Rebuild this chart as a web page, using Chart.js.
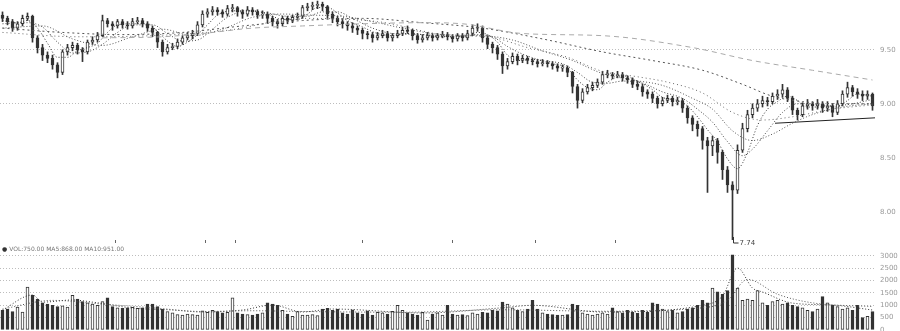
<!DOCTYPE html>
<html>
<head>
<meta charset="utf-8">
<script src="https://cdn.jsdelivr.net/npm/chart.js@4.4.1/dist/chart.umd.min.js"></script>
<style>
  body { margin: 0; background: #fff; width: 900px; height: 331px; overflow: hidden; position: relative; }
  #price { position: absolute; left: 0; top: 0; }
  #vol { position: absolute; left: 0; top: 252px; }
  #volLegend { position: absolute; left: 2px; top: 245px; font: 6px "DejaVu Sans", sans-serif; color: #777; white-space: nowrap; }
  #volLegend b { color: #333; font-weight: normal; }
</style>
</head>
<body>
<canvas id="price" width="900" height="252"></canvas>
<div id="volLegend"><b>●</b> VOL:750.00 MA5:868.00 MA10:951.00</div>
<canvas id="vol" width="900" height="79"></canvas>
<script>
// daily candles
const opens = [9.82,9.79,9.76,9.70,9.74,9.79,9.81,9.61,9.52,9.45,
 9.42,9.36,9.29,9.48,9.52,9.54,9.50,9.48,9.57,9.59,
 9.63,9.77,9.74,9.72,9.76,9.73,9.72,9.76,9.77,9.74,
 9.70,9.66,9.57,9.48,9.52,9.53,9.57,9.61,9.63,9.65,
 9.73,9.83,9.85,9.87,9.85,9.83,9.88,9.89,9.85,9.83,
 9.87,9.85,9.82,9.83,9.79,9.76,9.74,9.79,9.77,9.80,
 9.81,9.89,9.90,9.91,9.92,9.90,9.83,9.79,9.76,9.74,
 9.72,9.70,9.68,9.65,9.64,9.61,9.63,9.65,9.61,9.63,
 9.65,9.68,9.68,9.63,9.59,9.61,9.63,9.61,9.63,9.64,
 9.62,9.60,9.63,9.61,9.65,9.70,9.70,9.61,9.55,9.52,
 9.46,9.35,9.39,9.44,9.40,9.42,9.40,9.39,9.37,9.38,
 9.37,9.35,9.33,9.33,9.29,9.16,9.03,9.11,9.15,9.17,
 9.20,9.27,9.27,9.26,9.27,9.24,9.22,9.18,9.16,9.11,
 9.09,9.05,9.00,9.03,9.05,9.02,9.03,8.96,8.87,8.81,
 8.77,8.66,8.61,8.66,8.55,8.39,8.25,8.20,8.57,8.77,
 8.90,8.96,9.00,9.03,9.02,9.07,9.09,9.13,9.05,8.94,
 8.90,8.98,9.00,8.98,9.00,8.96,8.98,8.92,9.00,9.09,
 9.15,9.11,9.09,9.07,9.09];
const closes = [9.79,9.76,9.70,9.74,9.79,9.81,9.61,9.52,9.45,9.42,
 9.36,9.29,9.48,9.52,9.54,9.50,9.48,9.57,9.59,9.63,
 9.77,9.74,9.72,9.76,9.73,9.72,9.76,9.77,9.74,9.70,
 9.66,9.57,9.48,9.52,9.53,9.57,9.61,9.63,9.65,9.73,
 9.83,9.85,9.87,9.85,9.83,9.88,9.89,9.85,9.83,9.87,
 9.85,9.82,9.83,9.79,9.76,9.74,9.79,9.77,9.80,9.81,
 9.89,9.90,9.91,9.92,9.90,9.83,9.79,9.76,9.74,9.72,
 9.70,9.68,9.65,9.64,9.61,9.63,9.65,9.61,9.63,9.65,
 9.68,9.67,9.63,9.59,9.61,9.63,9.61,9.63,9.64,9.62,
 9.60,9.63,9.61,9.65,9.70,9.71,9.61,9.55,9.52,9.46,
 9.35,9.39,9.44,9.40,9.42,9.40,9.39,9.37,9.38,9.37,
 9.35,9.33,9.34,9.29,9.16,9.03,9.11,9.15,9.17,9.20,
 9.27,9.28,9.26,9.27,9.24,9.22,9.18,9.16,9.11,9.09,
 9.05,9.00,9.03,9.05,9.02,9.03,8.96,8.87,8.81,8.77,
 8.66,8.61,8.66,8.55,8.39,8.25,8.20,8.57,8.77,8.90,
 8.96,9.00,9.03,9.02,9.07,9.09,9.13,9.05,8.94,8.90,
 8.98,9.00,8.98,9.00,8.96,8.98,8.92,9.00,9.09,9.15,
 9.11,9.09,9.07,9.09,8.98];
const highs = [9.85,9.81,9.78,9.76,9.82,9.84,9.82,9.63,9.55,9.48,
 9.45,9.38,9.50,9.55,9.57,9.56,9.52,9.59,9.62,9.66,
 9.82,9.79,9.76,9.78,9.78,9.76,9.79,9.80,9.79,9.76,
 9.72,9.67,9.59,9.55,9.56,9.60,9.63,9.66,9.68,9.76,
 9.86,9.88,9.90,9.89,9.87,9.91,9.92,9.90,9.87,9.90,
 9.89,9.87,9.86,9.85,9.81,9.78,9.81,9.81,9.82,9.84,
 9.91,9.93,9.94,9.95,9.94,9.91,9.85,9.81,9.78,9.76,
 9.75,9.72,9.70,9.67,9.66,9.66,9.68,9.67,9.65,9.68,
 9.71,9.72,9.69,9.65,9.64,9.66,9.65,9.65,9.67,9.66,
 9.64,9.65,9.65,9.68,9.73,9.74,9.72,9.63,9.57,9.54,
 9.48,9.42,9.47,9.46,9.45,9.44,9.42,9.41,9.41,9.40,
 9.39,9.37,9.36,9.35,9.30,9.18,9.14,9.18,9.20,9.23,
 9.30,9.31,9.29,9.30,9.29,9.26,9.24,9.21,9.18,9.13,
 9.11,9.07,9.06,9.08,9.07,9.06,9.05,8.98,8.89,8.84,
 8.79,8.69,8.70,8.68,8.57,8.42,8.28,8.62,8.82,8.94,
 9.00,9.04,9.07,9.06,9.10,9.13,9.18,9.15,9.07,8.96,
 9.01,9.04,9.02,9.04,9.02,9.02,9.00,9.03,9.12,9.20,
 9.17,9.14,9.12,9.12,9.10];
const lows = [9.76,9.73,9.67,9.68,9.72,9.77,9.57,9.47,9.40,9.38,
 9.32,9.24,9.27,9.45,9.49,9.46,9.39,9.46,9.55,9.57,
 9.62,9.71,9.68,9.70,9.70,9.69,9.70,9.74,9.71,9.67,
 9.62,9.52,9.44,9.46,9.50,9.51,9.55,9.59,9.60,9.63,
 9.71,9.80,9.82,9.82,9.80,9.81,9.85,9.81,9.79,9.81,
 9.82,9.79,9.79,9.75,9.72,9.70,9.72,9.74,9.75,9.78,
 9.79,9.86,9.87,9.88,9.86,9.79,9.75,9.72,9.70,9.68,
 9.66,9.64,9.60,9.60,9.57,9.59,9.61,9.58,9.58,9.61,
 9.63,9.65,9.59,9.56,9.57,9.59,9.58,9.59,9.61,9.59,
 9.57,9.58,9.58,9.59,9.63,9.67,9.57,9.51,9.47,9.41,
 9.28,9.32,9.37,9.36,9.38,9.37,9.36,9.34,9.35,9.34,
 9.32,9.30,9.30,9.25,9.10,8.96,9.01,9.09,9.12,9.15,
 9.18,9.24,9.23,9.24,9.21,9.19,9.15,9.13,9.07,9.05,
 9.01,8.96,8.98,9.01,8.98,8.99,8.92,8.82,8.75,8.70,
 8.58,8.18,8.52,8.45,8.30,8.18,7.74,8.17,8.55,8.74,
 8.87,8.93,8.97,8.98,9.00,9.04,9.06,9.02,8.90,8.85,
 8.88,8.95,8.94,8.95,8.92,8.93,8.88,8.90,8.98,9.06,
 9.07,9.05,9.03,9.04,8.94];
const volumes = [800,850,750,930,730,1740,1400,1250,1100,1050,
 1000,950,980,930,1400,1250,1150,1100,1050,1000,
 1150,1300,950,900,880,900,920,880,900,1050,
 1050,950,850,750,700,620,600,650,620,600,
 780,720,800,750,700,720,1300,700,650,620,
 600,650,700,1100,1050,1000,800,650,550,750,
 600,600,620,580,850,880,800,850,700,650,
 820,700,650,780,600,720,700,640,760,1000,
 800,700,650,600,720,400,650,700,600,1000,
 650,600,620,580,700,650,720,700,800,780,
 1130,1050,900,800,750,850,1200,850,700,650,
 620,600,600,620,1050,1000,700,650,600,650,
 700,650,900,750,700,800,720,680,800,720,
 1100,1050,850,750,800,700,750,850,900,1000,
 1200,1100,1700,1550,1450,1600,3050,1700,1200,1250,
 1200,1600,1100,1000,1150,1200,1050,1100,1000,950,
 900,800,750,850,1350,1100,1000,950,850,900,
 800,1000,500,550,750];

// moving average lines, sampled along the picture (candle index, value)
const ma5Idx = [0,3,5,7,9,11,13,15,17,19,21,23,26,29,31,33,35,37,39,41,43,46,50,53,56,59,61,63,65,67,69,72,75,78,81,84,87,90,93,95,97,99,101,103,106,110,113,115,117,119,121,124,127,130,132,135,137,139,141,143,145,147,149,151,153,155,157,159,161,163,165,167,169,171,174];
const ma5Val = [9.77,9.75,9.77,9.70,9.56,9.43,9.43,9.49,9.52,9.56,9.66,9.73,9.74,9.74,9.67,9.58,9.53,9.57,9.64,9.73,9.82,9.86,9.86,9.83,9.78,9.78,9.83,9.89,9.89,9.84,9.77,9.71,9.65,9.63,9.65,9.64,9.62,9.62,9.62,9.66,9.64,9.57,9.45,9.40,9.41,9.37,9.33,9.22,9.15,9.13,9.20,9.26,9.21,9.13,9.06,9.03,8.98,8.88,8.76,8.65,8.49,8.40,8.55,8.80,8.95,9.02,9.07,9.03,8.97,8.97,8.98,8.97,9.03,9.09,9.07];
const ma10Idx = [0,5,8,11,14,17,20,23,26,30,33,36,39,42,45,49,53,57,61,64,67,70,74,78,84,90,95,98,101,104,108,112,115,118,121,124,128,132,136,139,142,145,148,150,153,156,159,162,166,170,174];
const ma10Val = [9.74,9.75,9.71,9.57,9.47,9.48,9.55,9.66,9.73,9.73,9.65,9.58,9.59,9.69,9.80,9.86,9.84,9.81,9.81,9.85,9.85,9.79,9.70,9.65,9.64,9.62,9.64,9.62,9.53,9.46,9.40,9.37,9.29,9.20,9.19,9.21,9.19,9.11,9.05,8.95,8.83,8.65,8.52,8.58,8.75,8.92,9.00,9.00,8.98,9.00,9.04];
const ma20Idx = [0,8,14,20,26,32,38,44,50,56,62,68,74,80,88,96,102,108,114,120,126,132,138,142,146,150,154,158,162,168,174];
const ma20Val = [9.70,9.72,9.60,9.54,9.62,9.69,9.63,9.69,9.80,9.83,9.82,9.81,9.76,9.70,9.64,9.63,9.59,9.49,9.40,9.28,9.22,9.17,9.05,8.95,8.75,8.66,8.72,8.82,8.90,8.97,9.00];
const ma30Idx = [0,15,30,45,60,75,90,97,105,113,120,127,133,140,146,152,158,166,174];
const ma30Val = [9.66,9.62,9.63,9.68,9.79,9.76,9.63,9.62,9.52,9.43,9.30,9.25,9.20,9.10,8.92,8.85,8.88,8.95,8.99];
const ma60Idx = [0,12,24,36,48,60,72,84,96,108,120,130,140,148,154,160,168,174];
const ma60Val = [9.70,9.66,9.64,9.66,9.72,9.77,9.79,9.75,9.70,9.60,9.48,9.40,9.31,9.18,9.07,9.02,9.00,9.00];
const maLongIdx = [20,32,40,50,60,72,84,92,104,120,138,150,162,174];
const maLongVal = [9.61,9.62,9.65,9.70,9.72,9.74,9.75,9.74,9.65,9.63,9.52,9.40,9.31,9.22];
const trendIdx = [154.5, 174.5];
const trendVal = [8.82, 8.87];

const vma5Idx = [0,6,8,14,18,26,34,40,48,54,60,66,84,100,106,120,140,144,147,150,152,158,166,174];
const vma5Val = [810,1420,1130,1215,1130,890,810,730,810,1010,730,850,690,900,1000,730,1000,1380,2510,1700,1540,1090,1010,810];
const vma10Idx = [0,10,20,30,40,50,60,80,100,120,140,145,149,155,162,174];
const vma10Val = [850,1200,1050,900,750,780,750,720,820,760,900,1200,2050,1450,1100,950];

const priceTicks = [8, 8.5, 9, 9.5];
const volTicks = [0, 500, 1000, 1500, 2000, 2500, 3000];
const monthTicks = [22.5, 40.5, 46.5, 72, 90, 106.5, 122.5];

const DARK = '#333';
const N = closes.length;
const up = closes.map((c, i) => c >= opens[i]);

function maLine(ix, vals, color, dash) {
  return {
    type: 'line',
    data: ix.map((x, k) => ({ x: x, y: vals[k] })),
    borderColor: color,
    borderWidth: 1,
    borderDash: dash,
    pointRadius: 0,
    cubicInterpolationMode: 'monotone',
    fill: false,
    order: 0
  };
}

function fitRight(s) {
  s.width = 25;
  s.paddingTop = 0;
  s.paddingBottom = 0;
}

// little "lowest price" marker like the original
const lowMark = {
  id: 'lowMark',
  afterDatasetsDraw(chart) {
    let k = 0;
    lows.forEach((v, i) => { if (v < lows[k]) k = i; });
    const x = Math.round(chart.scales.x.getPixelForValue(k)) + 0.5;
    const y = chart.scales.y.getPixelForValue(lows[k]);
    const c = chart.ctx;
    c.save();
    c.strokeStyle = DARK;
    c.lineWidth = 1;
    c.beginPath();
    c.moveTo(x, y - 3);
    c.lineTo(x, y + 3);
    c.lineTo(x + 5, y + 3);
    c.stroke();
    c.fillStyle = '#444';
    c.font = '7px "DejaVu Sans"';
    c.textBaseline = 'middle';
    c.fillText(lows[k].toFixed(2), x + 6, y + 3);
    c.restore();
  }
};

new Chart(document.getElementById('price'), {
  type: 'bar',
  data: {
    datasets: [
      {
        data: lows.map((l, i) => ({ x: i, y: [l, highs[i]] })),
        backgroundColor: DARK,
        barThickness: 1,
        grouped: false,
        order: 2
      },
      {
        data: opens.map((o, i) => ({ x: i, y: [o, closes[i]] })),
        backgroundColor: up.map(u => u ? '#fff' : DARK),
        borderColor: DARK,
        borderWidth: 1,
        borderSkipped: false,
        barThickness: 3,
        grouped: false,
        order: 1
      },
      maLine(maLongIdx, maLongVal, '#aaa', [5, 4]),
      maLine(ma60Idx, ma60Val, '#555', [2, 3]),
      maLine(ma30Idx, ma30Val, '#666', [1, 3]),
      maLine(ma20Idx, ma20Val, '#555', [1, 2]),
      maLine(ma10Idx, ma10Val, '#444', [1, 2]),
      maLine(ma5Idx, ma5Val, '#333', [1, 2]),
      maLine(trendIdx, trendVal, '#222', [])
    ]
  },
  options: {
    responsive: false,
    animation: false,
    events: [],
    layout: { padding: { top: 0, left: 0, right: 0, bottom: 9 } },
    plugins: { legend: { display: false }, tooltip: { enabled: false } },
    scales: {
      x: {
        type: 'linear',
        min: -0.5,
        max: N - 0.5,
        offset: false,
        afterBuildTicks: s => { s.ticks = monthTicks.map(v => ({ value: v })); },
        afterFit: s => { s.paddingLeft = 0; s.paddingRight = 0; },
        grid: { drawOnChartArea: false, tickLength: 3, color: '#666', offset: false },
        border: { display: false },
        ticks: { display: false, autoSkip: false }
      },
      y: {
        position: 'right',
        min: 7.74,
        max: 9.96,
        afterBuildTicks: s => { s.ticks = priceTicks.map(v => ({ value: v })); },
        afterFit: fitRight,
        grid: { color: c => c.tick && c.tick.value >= 9 ? '#bdbdbd' : 'rgba(0,0,0,0)', drawTicks: false },
        border: { display: false, dash: [1, 2] },
        ticks: { color: '#999', padding: 5, autoSkip: false, font: { size: 7, family: 'DejaVu Sans' }, callback: v => v.toFixed(2) }
      }
    }
  },
  plugins: [lowMark]
});

new Chart(document.getElementById('vol'), {
  type: 'bar',
  data: {
    datasets: [
      {
        data: volumes.map((v, i) => ({ x: i, y: v })),
        backgroundColor: up.map(u => u ? '#fff' : DARK),
        borderColor: DARK,
        borderWidth: 1,
        borderSkipped: false,
        barThickness: 3,
        grouped: false,
        order: 1
      },
      maLine(vma10Idx, vma10Val, '#555', [1, 2]),
      maLine(vma5Idx, vma5Val, '#333', [1, 2])
    ]
  },
  options: {
    responsive: false,
    animation: false,
    events: [],
    layout: { padding: { top: 0, left: 0, right: 0, bottom: 1 } },
    plugins: { legend: { display: false }, tooltip: { enabled: false } },
    scales: {
      x: { type: 'linear', min: -0.5, max: N - 0.5, offset: false, display: false },
      y: {
        position: 'right',
        min: 0,
        max: 3160,
        afterBuildTicks: s => { s.ticks = volTicks.map(v => ({ value: v })); },
        afterFit: fitRight,
        grid: { color: c => c.tick && c.tick.value > 0 ? '#bdbdbd' : 'rgba(0,0,0,0)', drawTicks: false },
        border: { display: false, dash: [1, 2] },
        ticks: { color: '#999', padding: 5, autoSkip: false, font: { size: 7, family: 'DejaVu Sans' }, callback: v => String(v) }
      }
    }
  }
});
</script>
</body>
</html>
